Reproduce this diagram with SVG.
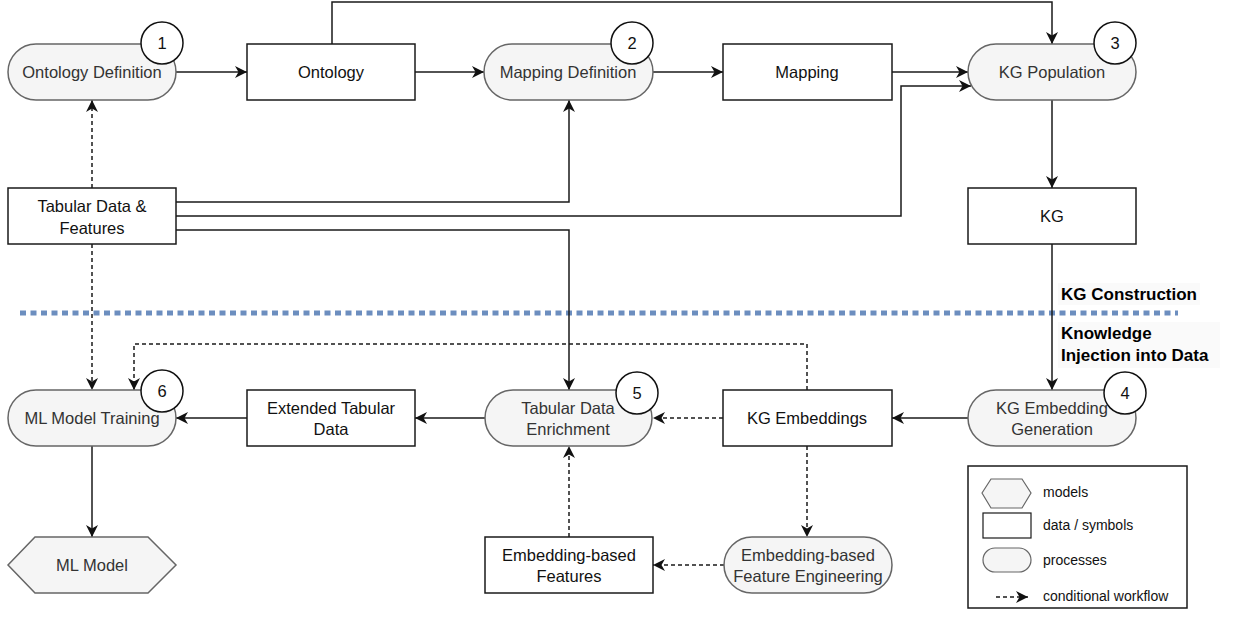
<svg xmlns="http://www.w3.org/2000/svg" width="1236" height="624" viewBox="0 0 1236 624">
<style>
  text { font-family: "Liberation Sans", Arial, sans-serif; }
  .pill { fill: #f5f5f5; stroke: #666666; stroke-width: 1.5; }
  .box { fill: #ffffff; stroke: #1a1a1a; stroke-width: 1.5; }
  .num { fill: #ffffff; stroke: #111111; stroke-width: 1.5; }
  .pt { font-size: 16.5px; fill: #333333; text-anchor: middle; dominant-baseline: central; }
  .bt { font-size: 16.5px; fill: #111111; text-anchor: middle; dominant-baseline: central; }
  .nt { font-size: 16.5px; fill: #111111; text-anchor: middle; dominant-baseline: central; }
  .lbl { font-size: 17px; font-weight: bold; fill: #000000; dominant-baseline: central; }
  .lt { font-size: 14px; fill: #111111; dominant-baseline: central; }
  .c { fill: none; stroke: #1a1a1a; stroke-width: 1.5; marker-end: url(#arr); }
  .d { fill: none; stroke: #1a1a1a; stroke-width: 1.5; stroke-dasharray: 4 3; marker-end: url(#arr); }
</style>
<defs>
  <marker id="arr" viewBox="0 0 12 12" refX="12" refY="6" markerWidth="12" markerHeight="12" markerUnits="userSpaceOnUse" orient="auto">
    <path d="M0,0 L12,6 L0,12 L3.5,6 z" fill="#111111"/>
  </marker>
</defs>
<rect width="1236" height="624" fill="#ffffff"/>

<!-- separator -->
<line x1="20" y1="313" x2="1178" y2="313" stroke="#6c8ebf" stroke-width="5" stroke-dasharray="6 4.5"/>

<g id="connectors">
  <path class="c" d="M176,72 H247"/>
  <path class="c" d="M415,72 H484"/>
  <path class="c" d="M653,72 H723"/>
  <path class="c" d="M892,72 H968"/>
  <path class="c" d="M332,44 V2 H1052 V44"/>
  <path class="c" d="M176,202 H569 V100"/>
  <path class="c" d="M176,216 H901 V86 H971"/>
  <path class="c" d="M176,230 H569 V390"/>
  <path class="d" d="M92,188 V100"/>
  <path class="d" d="M92,244 V390"/>
  <path class="c" d="M1052,100 V188"/>
  <path class="c" d="M1052,244 V390"/>
  <path class="c" d="M968,418 H892"/>
  <path class="d" d="M723,418 H653"/>
  <path class="c" d="M485,418 H415"/>
  <path class="c" d="M247,418 H176"/>
  <path class="c" d="M92,446 V537"/>
  <path class="d" d="M807,390 V344 H134 V390"/>
  <path class="d" d="M807,446 V537"/>
  <path class="d" d="M724,565 H653"/>
  <path class="d" d="M569,537 V446"/>
</g>

<g id="label-kg-construction">
  <rect x="1058" y="283" width="142" height="22" fill="#fafafa"/>
  <text class="lbl" x="1061" y="294">KG Construction</text>
</g>
<g id="label-knowledge-injection">
  <rect x="1058" y="322" width="162" height="46" fill="#fafafa"/>
  <text class="lbl" x="1061" y="333">Knowledge</text>
  <text class="lbl" x="1061" y="355">Injection into Data</text>
</g>

<g id="ontology-definition">
  <rect class="pill" x="8" y="44" width="168" height="56" rx="28"/>
  <text class="pt" x="92" y="72">Ontology Definition</text>
  <circle class="num" cx="162" cy="43" r="21"/>
  <text class="nt" x="162" y="43">1</text>
</g>
<g id="ontology">
  <rect class="box" x="247" y="44" width="168" height="56"/>
  <text class="bt" x="331" y="72">Ontology</text>
</g>
<g id="mapping-definition">
  <rect class="pill" x="484" y="44" width="169" height="56" rx="28"/>
  <text class="pt" x="568" y="72">Mapping Definition</text>
  <circle class="num" cx="632" cy="43" r="21"/>
  <text class="nt" x="632" y="43">2</text>
</g>
<g id="mapping">
  <rect class="box" x="723" y="44" width="169" height="56"/>
  <text class="bt" x="807" y="72">Mapping</text>
</g>
<g id="kg-population">
  <rect class="pill" x="968" y="44" width="168" height="56" rx="28"/>
  <text class="pt" x="1052" y="72">KG Population</text>
  <circle class="num" cx="1115" cy="43" r="21"/>
  <text class="nt" x="1115" y="43">3</text>
</g>
<g id="kg">
  <rect class="box" x="968" y="188" width="168" height="56"/>
  <text class="bt" x="1052" y="216">KG</text>
</g>
<g id="tabular-data-features">
  <rect class="box" x="8" y="188" width="168" height="56"/>
  <text class="bt" x="92" y="206">Tabular Data &amp;</text>
  <text class="bt" x="92" y="228">Features</text>
</g>

<g id="ml-model-training">
  <rect class="pill" x="8" y="390" width="168" height="56" rx="28"/>
  <text class="pt" x="92" y="418">ML Model Training</text>
  <circle class="num" cx="162" cy="391" r="21"/>
  <text class="nt" x="162" y="391">6</text>
</g>
<g id="extended-tabular-data">
  <rect class="box" x="247" y="390" width="168" height="56"/>
  <text class="bt" x="331" y="408">Extended Tabular</text>
  <text class="bt" x="331" y="429">Data</text>
</g>
<g id="tabular-data-enrichment">
  <rect class="pill" x="485" y="390" width="167" height="56" rx="28"/>
  <text class="pt" x="568" y="408">Tabular Data</text>
  <text class="pt" x="568" y="429">Enrichment</text>
  <circle class="num" cx="637" cy="393" r="21"/>
  <text class="nt" x="637" y="393">5</text>
</g>
<g id="kg-embeddings">
  <rect class="box" x="723" y="390" width="169" height="56"/>
  <text class="bt" x="807" y="418">KG Embeddings</text>
</g>
<g id="kg-embedding-generation">
  <rect class="pill" x="968" y="390" width="168" height="56" rx="28"/>
  <text class="pt" x="1052" y="408">KG Embedding</text>
  <text class="pt" x="1052" y="429">Generation</text>
  <circle class="num" cx="1125" cy="393" r="21"/>
  <text class="nt" x="1125" y="393">4</text>
</g>
<g id="ml-model">
  <polygon points="8,565 35,537 148,537 176,565 148,593 35,593" fill="#f5f5f5" stroke="#666666" stroke-width="1.5"/>
  <text class="pt" x="92" y="565">ML Model</text>
</g>
<g id="embedding-based-features">
  <rect class="box" x="485" y="537" width="168" height="56"/>
  <text class="bt" x="569" y="555">Embedding-based</text>
  <text class="bt" x="569" y="576">Features</text>
</g>
<g id="embedding-based-feature-engineering">
  <rect class="pill" x="724" y="537" width="168" height="56" rx="28"/>
  <text class="pt" x="808" y="555">Embedding-based</text>
  <text class="pt" x="808" y="576">Feature Engineering</text>
</g>

<g id="legend">
  <rect x="968" y="466" width="219" height="142" fill="#ffffff" stroke="#1a1a1a" stroke-width="1.5"/>
  <polygon points="982,493 991,479 1022,479 1031,493 1022,508 991,508" fill="#f5f5f5" stroke="#666666" stroke-width="1.2"/>
  <text class="lt" x="1043" y="492">models</text>
  <rect x="983" y="513" width="48" height="25" fill="#ffffff" stroke="#1a1a1a" stroke-width="1.2"/>
  <text class="lt" x="1043" y="525">data / symbols</text>
  <rect x="983" y="548" width="48" height="24" rx="12" fill="#f5f5f5" stroke="#666666" stroke-width="1.2"/>
  <text class="lt" x="1043" y="560">processes</text>
  <path d="M996,597 H1028" fill="none" stroke="#1a1a1a" stroke-width="1.5" stroke-dasharray="4 3" marker-end="url(#arr)"/>
  <text class="lt" x="1043" y="596">conditional workflow</text>
</g>
</svg>
